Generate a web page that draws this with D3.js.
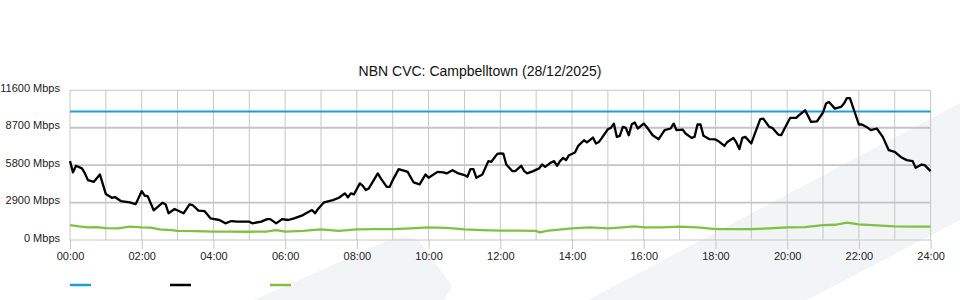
<!DOCTYPE html>
<html><head><meta charset="utf-8">
<script src="https://cdn.jsdelivr.net/npm/d3@7"></script>
<style>
html,body{margin:0;padding:0;background:#fff;}
svg{display:block;font-family:"Liberation Sans",Arial,Helvetica,sans-serif;}
</style></head>
<body>
<svg id="chart" width="960" height="300"></svg>
<script>
const title = "NBN CVC: Campbelltown (28/12/2025)";
const yTickValues = [0, 2900, 5800, 8700, 11600];
const xTickLabels = ["00:00","02:00","04:00","06:00","08:00","10:00","12:00","14:00","16:00","18:00","20:00","22:00","24:00"];
const seriesNames = ["", "", ""];
const seriesColors = ["#1aa1dc", "#000000", "#7fc241"];

// capacity line
const capMinutes = [0, 1440];
const capValues = [9950, 9950];

// traffic (black)
const downMinutes = [0,5,10,20,25,30,40,50,60,70,75,85,100,110,120,125,130,140,155,160,165,175,190,200,205,215,225,235,250,260,270,280,300,305,320,330,335,345,355,365,375,390,395,405,410,415,425,440,450,460,465,470,475,485,490,495,500,510,515,520,530,535,540,550,560,565,575,585,595,600,615,625,630,640,650,660,665,670,675,680,690,700,705,715,720,725,730,740,745,755,760,765,775,785,790,795,805,810,815,820,825,830,835,845,850,860,865,875,880,885,890,900,905,910,915,920,925,930,935,940,945,950,960,965,975,985,995,1005,1010,1015,1025,1030,1040,1045,1050,1055,1060,1070,1080,1085,1095,1100,1110,1115,1120,1125,1130,1140,1145,1155,1160,1170,1175,1185,1190,1195,1205,1215,1220,1230,1235,1240,1250,1260,1265,1270,1280,1290,1295,1300,1305,1320,1325,1335,1340,1350,1360,1370,1380,1390,1400,1410,1415,1425,1430,1440];
const downValues = [6110,5240,5750,5550,5160,4640,4510,5080,3560,3270,3330,3020,2920,2780,3790,3430,3400,2300,2890,2760,2070,2400,2070,2760,2710,2270,2240,1680,1550,1290,1470,1420,1420,1290,1420,1620,1620,1290,1620,1550,1680,1930,2070,2320,2070,2400,2920,3090,3270,3610,3300,3610,3530,4390,4200,3870,4000,4770,5160,4770,4120,4120,4640,5490,5360,5280,4460,4310,5080,4820,5280,5240,5160,5410,5160,5030,4900,5490,5490,4820,5080,6110,6060,6670,6710,6700,5850,5340,5340,5750,5340,5160,5340,5550,5850,5670,6010,6110,5750,6110,6360,6190,6570,6780,7270,7730,7560,7940,7480,7600,7910,8580,8690,9020,7990,8070,8760,8690,8120,8970,9100,8640,9020,8760,8120,7810,8510,8640,9020,8510,8560,8250,7910,7990,8950,8950,8070,7810,7790,7660,7290,7600,7910,7560,7040,7910,7990,7480,8120,9360,9410,8760,8690,8170,8120,8580,9460,9460,9670,10050,9610,9150,9200,9880,10570,10700,10180,10310,10570,11000,11000,8950,8950,8690,8510,8640,7990,6960,6830,6440,6190,6110,5590,5850,5800,5340];

// upload (green)
const upMinutes = [0,15,30,45,60,80,100,120,135,150,170,180,210,240,270,300,330,345,360,390,420,450,480,510,540,570,600,630,660,690,720,750,780,786,800,810,840,870,900,930,945,960,990,1020,1050,1080,1110,1140,1170,1200,1230,1260,1280,1300,1320,1350,1380,1410,1440];
const upValues = [1160,1060,980,1000,920,900,1030,980,960,830,760,700,680,650,650,640,660,760,650,700,830,700,820,840,850,900,980,940,830,760,720,730,700,590,720,770,900,980,900,1000,1060,980,980,1030,980,850,850,850,900,980,1000,1160,1180,1340,1210,1130,1060,1030,1030];

const svg = d3.select("#chart");
const plotLeft = 70, plotRight = 930.6, plotTop = 90.3, plotBottom = 240;

const x = d3.scaleLinear().domain([0, 1440]).range([plotLeft, plotRight]);
const y = d3.scaleLinear().domain([0, 11600]).range([plotBottom, plotTop]);

// watermark
const wm = svg.append("g").attr("fill", "#f3f4f6");
wm.append("path").attr("d", "M588,300 L960,103 L960,220 L807,300 Z");
wm.append("path").attr("d", "M254,300 L380,244 Q396,235 412,238 Q419,240 423,246 L452,286 L444,300 Z");

svg.append("text").attr("x", 480).attr("y", 76).attr("text-anchor", "middle")
  .attr("font-size", 14).attr("fill", "#111").text(title);

// grid
const grid = svg.append("g").attr("fill", "none");
d3.range(0, 25).forEach(h => {
  grid.append("line").attr("x1", x(h*60)).attr("x2", x(h*60)).attr("y1", plotTop).attr("y2", plotBottom)
    .attr("stroke", "#c6c6c6").attr("stroke-width", 1);
});
yTickValues.forEach((v, i) => {
  const inner = i > 0 && i < yTickValues.length - 1;
  grid.append("line").attr("x1", plotLeft).attr("x2", plotRight).attr("y1", y(v)).attr("y2", y(v))
    .attr("stroke", inner ? "#c4c4c4" : "#c6c6c6").attr("stroke-width", inner ? 1.8 : 1);
});

// y labels
const yAxis = d3.axisLeft(y).tickValues(yTickValues).tickSize(0).tickPadding(10)
  .tickFormat(d => d + " Mbps");
const gy = svg.append("g").attr("transform", `translate(${plotLeft},0)`).call(yAxis);
gy.select(".domain").remove();
gy.selectAll("text").attr("font-size", 11).attr("fill", "#222")
  .attr("font-family", "'Liberation Sans',Arial,sans-serif").attr("dy", "0.1em");

// x axis
const xAxis = d3.axisBottom(x).tickValues(d3.range(0, 1441, 120)).tickSize(9).tickPadding(3)
  .tickFormat((d, i) => xTickLabels[i]);
const gx = svg.append("g").attr("transform", `translate(0,${plotBottom})`).call(xAxis);
gx.select(".domain").remove();
gx.selectAll("line").attr("stroke", "#c6c6c6");
gx.selectAll("text").attr("font-size", 11).attr("fill", "#222")
  .attr("font-family", "'Liberation Sans',Arial,sans-serif");

const line = d3.line().x(d => x(d[0])).y(d => y(d[1]));
const drawSeries = (mins, vals, color, w) => {
  svg.append("path").datum(mins.map((m, i) => [m, vals[i]]))
    .attr("fill", "none").attr("stroke", color).attr("stroke-width", w)
    .attr("stroke-linejoin", "round").attr("d", line);
};
drawSeries(capMinutes, capValues, seriesColors[0], 2);
drawSeries(upMinutes, upValues, seriesColors[2], 2.3);
drawSeries(downMinutes, downValues, seriesColors[1], 2.3);

// legend
const lg = svg.append("g");
seriesNames.forEach((n, i) => {
  lg.append("line").attr("x1", 70 + i*100).attr("x2", 91 + i*100)
    .attr("y1", 285).attr("y2", 285).attr("stroke", seriesColors[i]).attr("stroke-width", 2.5);
  lg.append("text").attr("x", 96 + i*100).attr("y", 289).attr("font-size", 11).text(n);
});
</script>
</body></html>
